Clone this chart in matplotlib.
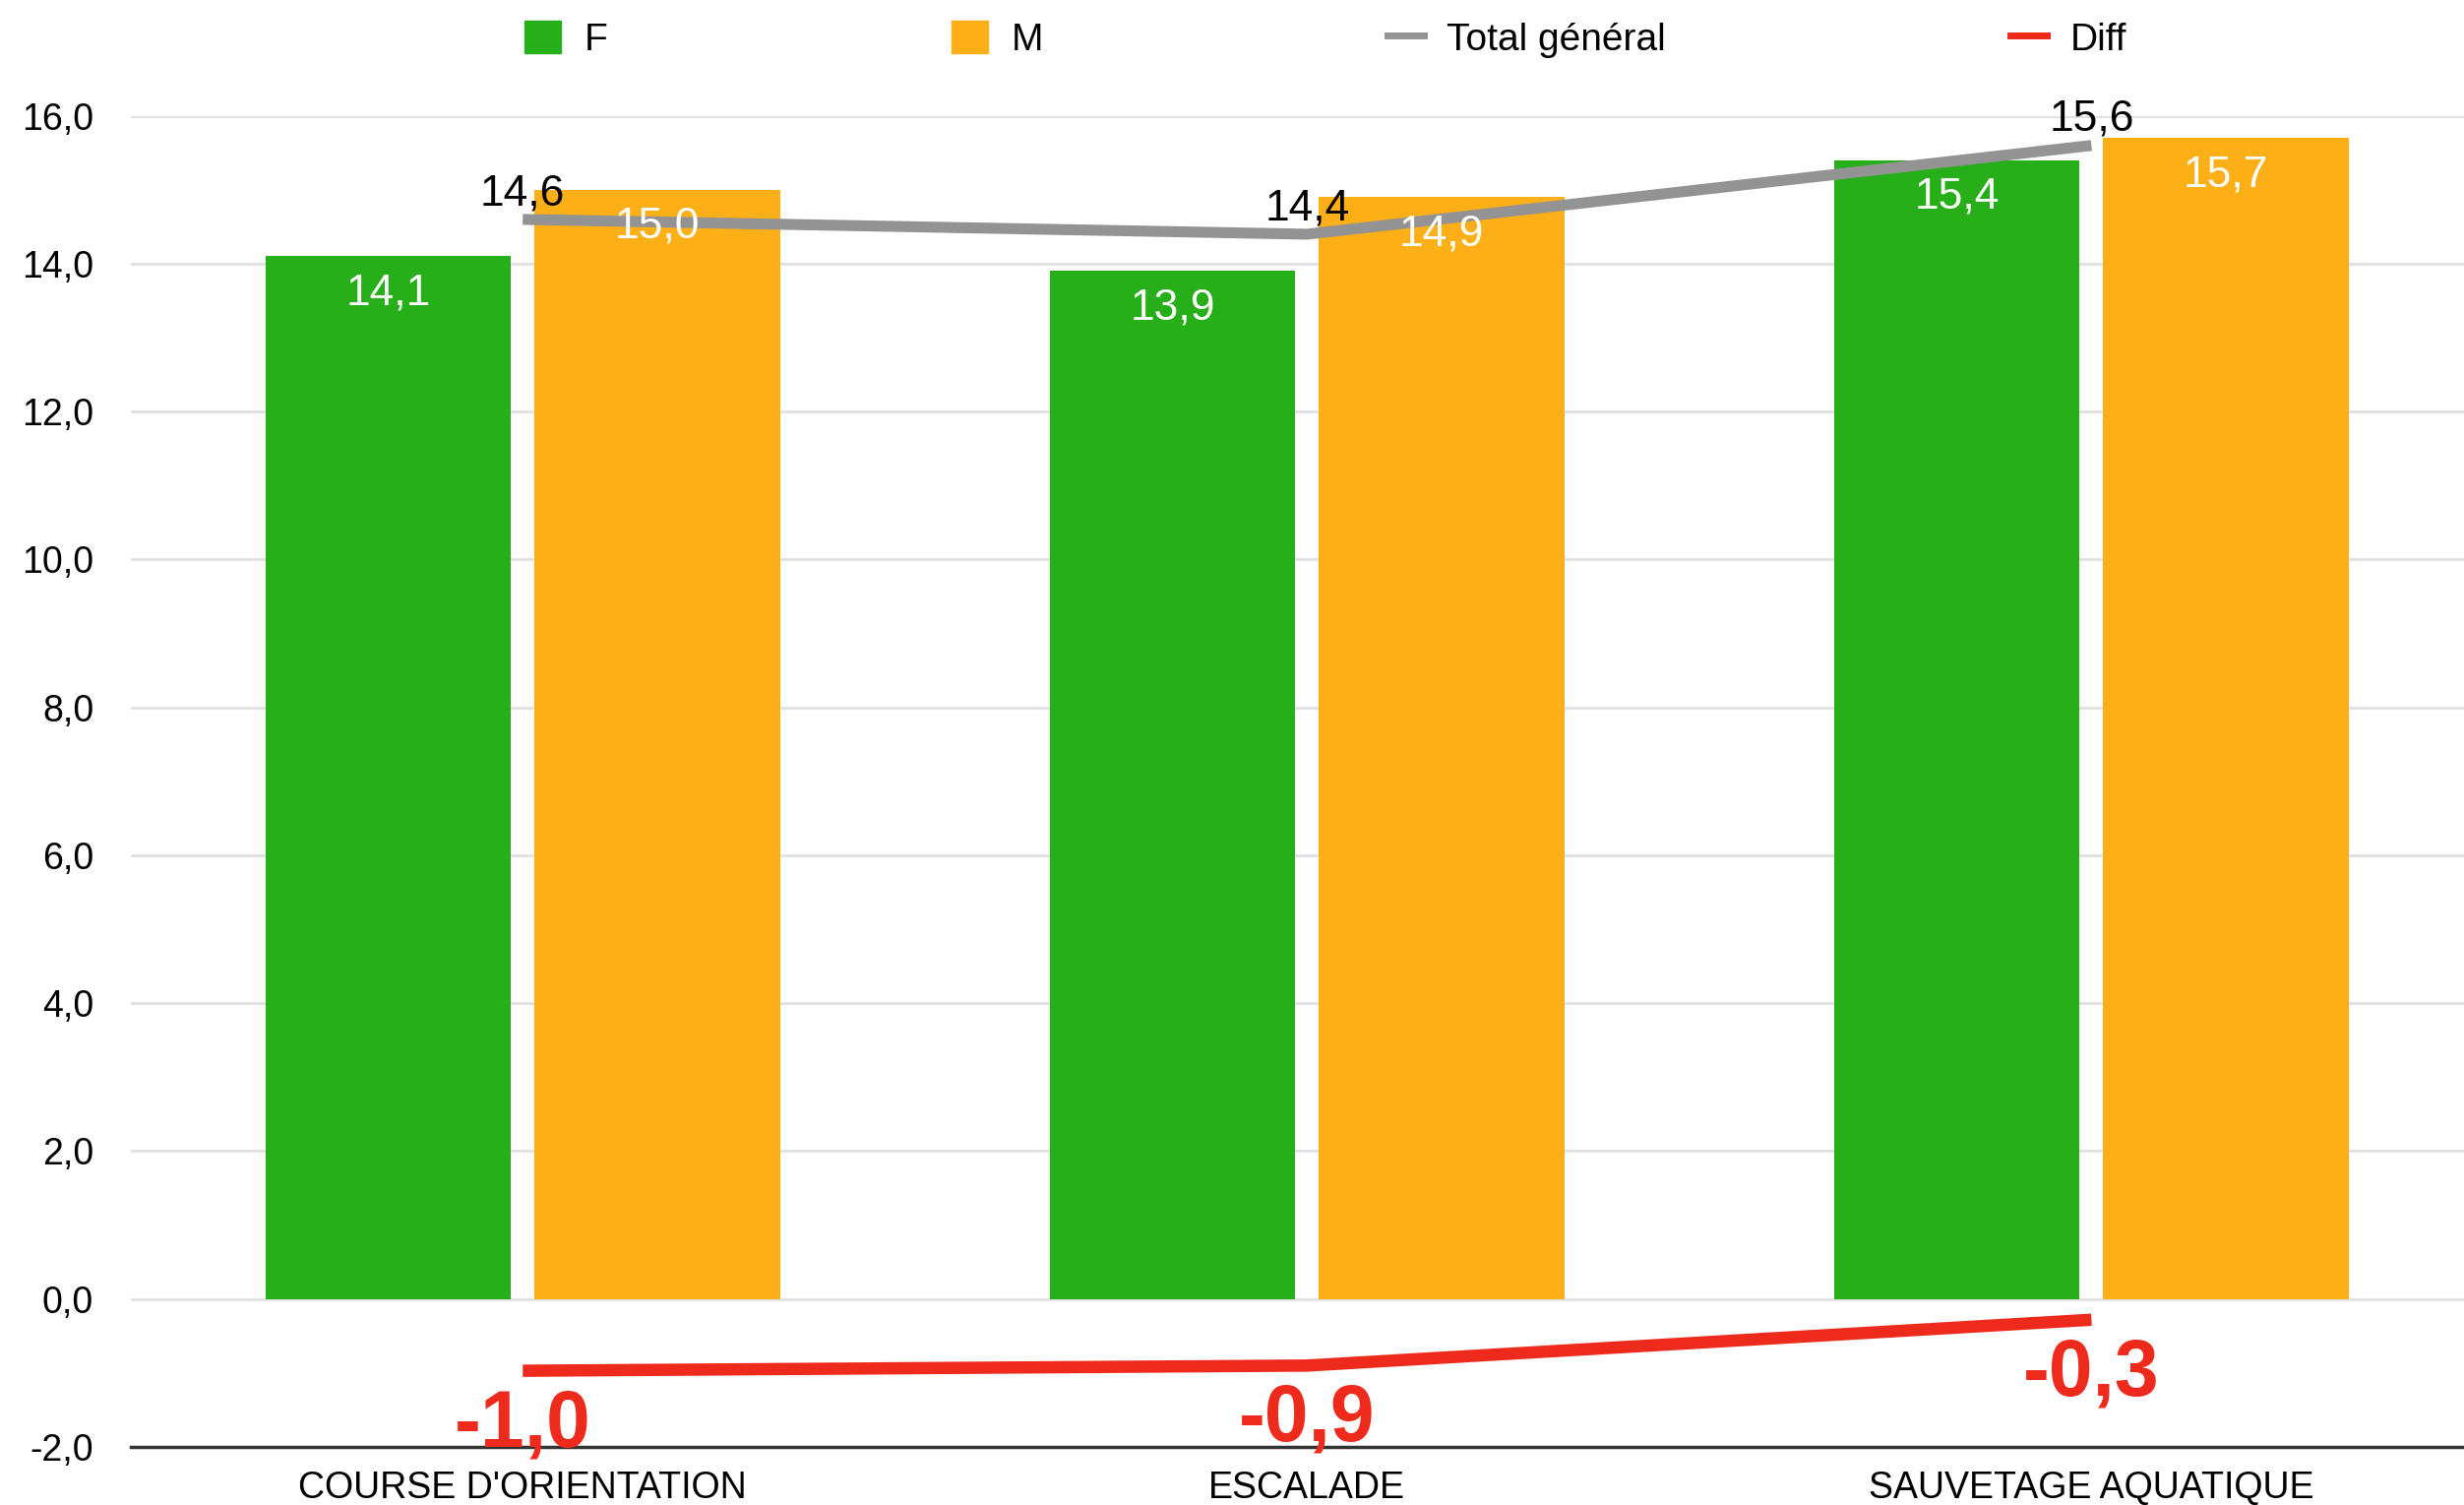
import matplotlib.pyplot as plt
import numpy as np
from matplotlib.patches import Patch
from matplotlib.lines import Line2D

plt.rcParams['font.family'] = ['Liberation Sans', 'DejaVu Sans']

categories = ["COURSE D'ORIENTATION", "ESCALADE", "SAUVETAGE AQUATIQUE"]
f_values = [14.1, 13.9, 15.4]
m_values = [15.0, 14.9, 15.7]
total_values = [14.6, 14.4, 15.6]
diff_values = [-0.97, -0.9, -0.28]
y_ticks = [-2, 0, 2, 4, 6, 8, 10, 12, 14, 16]

GREEN = '#26af19'
ORANGE = '#fdaf17'
GREY = '#939393'
RED = '#ee2a1c'


def fmt(v):
    return f"{v:.1f}".replace('.', ',')


fig = plt.figure(figsize=(25.04, 15.29), dpi=100)
ax = fig.add_axes([0.053, 0.0386, 0.947, 0.8844])

x = np.arange(len(categories))
w = 0.313
off = 0.1715

bars_f = ax.bar(x - off, f_values, w, color=GREEN, zorder=2)
bars_m = ax.bar(x + off, m_values, w, color=ORANGE, zorder=2)

# value labels inside the bars
for bars, vals in ((bars_f, f_values), (bars_m, m_values)):
    for b, v in zip(bars, vals):
        ax.annotate(fmt(v), (b.get_x() + b.get_width() / 2, v),
                    xytext=(0, -27), textcoords='offset points',
                    ha='center', va='center', color='white', fontsize=32, zorder=4)

ax.plot(x, total_values, color=GREY, lw=8, zorder=3, solid_capstyle='butt')
for xi, v in zip(x, total_values):
    ax.annotate(fmt(v), (xi, v), xytext=(0, 19), textcoords='offset points',
                ha='center', va='center', color='black', fontsize=32, zorder=5)

ax.plot(x, diff_values, color=RED, lw=9, zorder=3, solid_capstyle='butt')
for xi, v in zip(x, diff_values):
    ax.annotate(fmt(v), (xi, v), xytext=(0, -40), textcoords='offset points',
                ha='center', va='center', color=RED, fontsize=58,
                fontweight='bold', zorder=5, annotation_clip=False)

ax.set_xlim(-0.5, 2.475)
ax.set_ylim(-2, 16)
ax.set_yticks(y_ticks)
ax.set_yticklabels([fmt(t) for t in y_ticks], fontsize=27)
ax.set_xticks(x)
ax.set_xticklabels(categories, fontsize=27)
ax.tick_params(axis='both', length=0)
ax.tick_params(axis='y', pad=27)
ax.tick_params(axis='x', pad=17)

ax.grid(axis='y', color='#e0e0e0', lw=2, zorder=0)
ax.set_axisbelow(True)
for s in ('top', 'right', 'left'):
    ax.spines[s].set_visible(False)
ax.spines['bottom'].set_color('#333333')
ax.spines['bottom'].set_linewidth(2.5)

handles = [
    Patch(color=GREEN, label='F'),
    Patch(color=ORANGE, label='M'),
    Line2D([], [], color=GREY, lw=5, label='Total général'),
    Line2D([], [], color=RED, lw=5, label='Diff'),
]
fig.legend(handles=handles, loc='center left', bbox_to_anchor=(0.213, 0.974),
           ncol=4, frameon=False, fontsize=28, borderaxespad=0, borderpad=0,
           handlelength=0.95, handleheight=0.95, handletextpad=0.6,
           columnspacing=9.0)

fig.savefig('out.png', dpi=100)
